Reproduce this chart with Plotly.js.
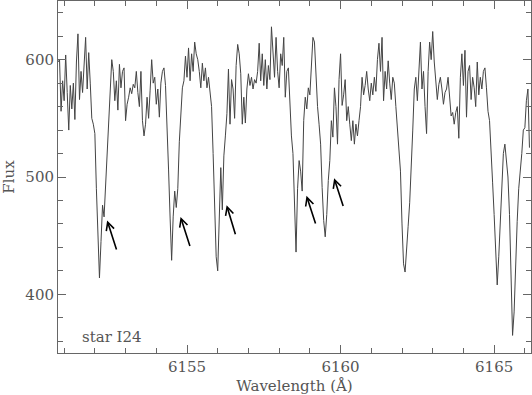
<!DOCTYPE html>
<html>
<head>
<meta charset="utf-8">
<script src="https://cdn.plot.ly/plotly-3.0.1.min.js"></script>
<style>
html, body { margin: 0; padding: 0; background: #fff; }
#chart { width: 532px; height: 395px; }
</style>
</head>
<body>
<div id="chart"></div>
<script>
// spectrum of star I24, wavelength in Angstrom
var wavelength = [
    6150.80,6150.85,6150.90,6150.95,6151.00,6151.05,6151.10,6151.15,6151.20,6151.25,6151.30,6151.35,6151.40,6151.45,6151.50,6151.55,6151.60,6151.65,6151.70,6151.75,
    6151.80,6151.85,6151.90,6151.95,6152.00,6152.05,6152.10,6152.15,6152.20,6152.25,6152.30,6152.35,6152.40,6152.45,6152.50,6152.55,6152.60,6152.65,6152.70,6152.75,
    6152.80,6152.85,6152.90,6152.95,6153.00,6153.05,6153.10,6153.15,6153.20,6153.25,6153.30,6153.35,6153.40,6153.45,6153.50,6153.55,6153.60,6153.65,6153.70,6153.75,
    6153.80,6153.85,6153.90,6153.95,6154.00,6154.05,6154.10,6154.15,6154.20,6154.25,6154.30,6154.35,6154.40,6154.45,6154.50,6154.55,6154.60,6154.65,6154.70,6154.75,
    6154.80,6154.85,6154.90,6154.95,6155.00,6155.05,6155.10,6155.15,6155.20,6155.25,6155.30,6155.35,6155.40,6155.45,6155.50,6155.55,6155.60,6155.65,6155.70,6155.75,
    6155.80,6155.85,6155.90,6155.95,6156.00,6156.05,6156.10,6156.15,6156.20,6156.25,6156.30,6156.35,6156.40,6156.45,6156.50,6156.55,6156.60,6156.65,6156.70,6156.75,
    6156.80,6156.85,6156.90,6156.95,6157.00,6157.05,6157.10,6157.15,6157.20,6157.25,6157.30,6157.35,6157.40,6157.45,6157.50,6157.55,6157.60,6157.65,6157.70,6157.75,
    6157.80,6157.85,6157.90,6157.95,6158.00,6158.05,6158.10,6158.15,6158.20,6158.25,6158.30,6158.35,6158.40,6158.45,6158.50,6158.55,6158.60,6158.65,6158.70,6158.75,
    6158.80,6158.85,6158.90,6158.95,6159.00,6159.05,6159.10,6159.15,6159.20,6159.25,6159.30,6159.35,6159.40,6159.45,6159.50,6159.55,6159.60,6159.65,6159.70,6159.75,
    6159.80,6159.85,6159.90,6159.95,6160.00,6160.05,6160.10,6160.15,6160.20,6160.25,6160.30,6160.35,6160.40,6160.45,6160.50,6160.55,6160.60,6160.65,6160.70,6160.75,
    6160.80,6160.85,6160.90,6160.95,6161.00,6161.05,6161.10,6161.15,6161.20,6161.25,6161.30,6161.35,6161.40,6161.45,6161.50,6161.55,6161.60,6161.65,6161.70,6161.75,
    6161.80,6161.85,6161.90,6161.95,6162.00,6162.05,6162.10,6162.15,6162.20,6162.25,6162.30,6162.35,6162.40,6162.45,6162.50,6162.55,6162.60,6162.65,6162.70,6162.75,
    6162.80,6162.85,6162.90,6162.95,6163.00,6163.05,6163.10,6163.15,6163.20,6163.25,6163.30,6163.35,6163.40,6163.45,6163.50,6163.55,6163.60,6163.65,6163.70,6163.75,
    6163.80,6163.85,6163.90,6163.95,6164.00,6164.05,6164.10,6164.15,6164.20,6164.25,6164.30,6164.35,6164.40,6164.45,6164.50,6164.55,6164.60,6164.65,6164.70,6164.75,
    6164.80,6164.85,6164.90,6164.95,6165.00,6165.05,6165.10,6165.15,6165.20,6165.25,6165.30,6165.35,6165.40,6165.45,6165.50,6165.55,6165.60,6165.65,6165.70,6165.75,
    6165.80,6165.85,6165.90,6165.95,6166.00,6166.05,6166.10,6166.15
];

var flux = [
    598,600,556,582,565,604,572,540,578,558,580,549,598,622,566,590,572,596,619,575,
    606,580,550,545,537,490,440,414,445,476,466,492,530,548,570,600,590,565,582,557,
    596,576,590,593,548,562,568,576,571,579,576,590,572,560,590,548,535,545,568,550,
    574,600,580,585,562,575,551,580,590,593,578,548,506,465,429,466,488,474,490,530,
    560,576,582,603,585,610,582,605,590,615,605,600,590,576,597,582,593,576,585,571,
    560,520,468,432,420,462,508,472,518,535,554,592,545,583,575,550,595,613,605,588,
    545,568,546,575,588,578,585,575,583,580,590,614,582,605,578,600,575,595,583,628,
    600,585,619,590,576,605,595,619,568,590,593,555,535,520,466,436,490,514,505,488,
    548,568,558,576,570,600,619,615,583,560,545,528,491,463,449,468,497,514,548,534,
    576,560,528,583,605,561,570,583,548,560,545,531,548,528,545,535,548,560,585,570,
    578,590,575,565,580,570,585,573,600,614,590,619,565,590,575,599,580,566,585,580,
    560,542,522,505,460,426,419,435,458,478,505,540,575,585,565,592,615,575,590,560,
    537,590,615,600,624,598,580,566,579,585,575,562,572,575,585,565,552,555,545,555,
    560,533,585,605,578,608,551,590,595,566,585,576,560,598,570,585,575,590,593,576,
    556,548,515,495,468,440,408,432,463,486,520,528,510,500,468,425,365,385,432,462,
    490,503,520,540,542,565,575,525
];

// arrows marking the weak lines (head = tip, tail = start)
var arrowHeadX = [6152.40, 6154.79, 6156.29, 6158.89, 6159.79];
var arrowHeadY = [463, 466, 476, 484, 499];
var arrowTailX = [6152.72, 6155.11, 6156.59, 6159.20, 6160.10];
var arrowTailY = [437, 440, 450, 459, 474];

var starLabel = 'star I24';

var grey = '#555';
var axisFont = {family: 'DejaVu Serif', size: 15, color: grey};

var data = [
    {
        type: 'scatter',
        mode: 'lines',
        x: wavelength,
        y: flux,
        line: {color: '#444', width: 1},
        hoverinfo: 'skip'
    }
];

var annotations = [];
for (var i = 0; i < arrowHeadX.length; i++) {
    annotations.push({
        x: arrowHeadX[i], y: arrowHeadY[i],
        ax: arrowTailX[i], ay: arrowTailY[i],
        xref: 'x', yref: 'y', axref: 'x', ayref: 'y',
        text: '',
        showarrow: true,
        arrowhead: 5,
        arrowsize: 1,
        arrowwidth: 1.6,
        arrowcolor: '#000',
        standoff: 0
    });
}
annotations.push({
    x: 6151.51, y: 364,
    xref: 'x', yref: 'y',
    text: starLabel,
    showarrow: false,
    xanchor: 'left',
    yanchor: 'middle',
    font: axisFont
});

var layout = {
    width: 532,
    height: 395,
    margin: {l: 58, r: 1, t: 1, b: 42},
    paper_bgcolor: '#fff',
    plot_bgcolor: '#fff',
    showlegend: false,
    xaxis: {
        range: [6150.8, 6166.2],
        dtick: 5,
        tick0: 6150,
        ticks: 'inside',
        ticklen: 8,
        tickcolor: '#666',
        minor: {dtick: 1, ticks: 'inside', ticklen: 5, tickcolor: '#666'},
        showline: true,
        linecolor: '#666',
        linewidth: 1,
        mirror: 'ticks',
        showgrid: false,
        zeroline: false,
        tickfont: axisFont,
        title: {text: 'Wavelength (Å)', font: axisFont, standoff: 6}
    },
    yaxis: {
        range: [350, 650],
        dtick: 100,
        ticks: 'inside',
        ticklen: 8,
        tickcolor: '#666',
        minor: {dtick: 20, ticks: 'inside', ticklen: 5, tickcolor: '#666'},
        showline: true,
        linecolor: '#666',
        linewidth: 1,
        mirror: 'ticks',
        showgrid: false,
        zeroline: false,
        tickfont: axisFont,
        title: {text: 'Flux', font: axisFont, standoff: 8}
    },
    annotations: annotations
};

Plotly.newPlot('chart', data, layout, {displayModeBar: false, staticPlot: true});
</script>
</body>
</html>
